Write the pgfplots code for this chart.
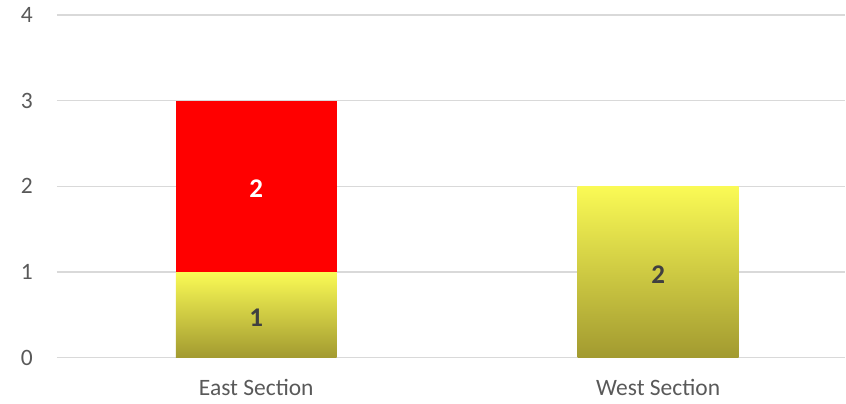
\documentclass[border=0pt]{standalone}
\usepackage{fontspec}
\setmainfont{Carlito}
\usepackage{pgfplots}
\pgfplotsset{compat=1.18}
\definecolor{gridgray}{HTML}{D9D9D9}
\definecolor{ticktext}{HTML}{595959}
\definecolor{labeldark}{HTML}{404040}
\definecolor{yellowtop}{HTML}{FAFA55}
\definecolor{yellowbot}{HTML}{A29A30}
\definecolor{barred}{HTML}{FF0000}

\pgfplotsset{
  chartframe/.style={
    scale only axis,
    width=789pt, height=343pt,
    xmin=-0.496, xmax=1.466,
    ymin=0, ymax=4,
  },
  yellowbar/.style={draw=none, top color=yellowtop, bottom color=yellowbot},
}

\begin{document}
\begin{tikzpicture}
% bars (one yellow plot per bar, so that each gets its own gradient)
\begin{axis}[
  chartframe,
  ybar stacked,
  bar width=161pt,
  axis line style={draw=none},
  major tick length=0pt,
  ytick={0,1,2,3,4},
  ymajorgrids,
  grid style={gridgray, line width=1.3pt},
  xtick={0,1},
  xticklabels={East Section, West Section},
  /pgf/number format/assume math mode=true,
  tick label style={font=\fontsize{23.5}{23.5}\selectfont, text=ticktext},
  yticklabel style={anchor=east, inner sep=0pt, xshift=-24pt},
  xticklabel style={anchor=base, inner sep=0pt, yshift=-38pt},
]
\addplot[yellowbar] coordinates {(0,1) (1,0)};
\addplot[yellowbar] coordinates {(0,0) (1,2)};
\addplot[draw=none, fill=barred] coordinates {(0,2) (1,0)};
\end{axis}
% data labels, at the middle of each segment
\begin{axis}[chartframe, hide axis]
\addplot[draw=none, mark=none, nodes near coords, point meta=explicit symbolic,
  nodes near coords style={anchor=center, inner sep=0pt, yshift=-3pt,
    text=labeldark, font=\fontsize{27}{27}\selectfont\bfseries}]
  coordinates {(0,0.5)[1] (1,1)[2]};
\addplot[draw=none, mark=none, nodes near coords, point meta=explicit symbolic,
  nodes near coords style={anchor=center, inner sep=0pt, yshift=-2pt,
    text=white, font=\fontsize{27}{27}\selectfont\bfseries}]
  coordinates {(0,2)[2]};
\end{axis}
\path (-57pt,-46pt) rectangle (789pt,358pt);
\end{tikzpicture}
\end{document}
